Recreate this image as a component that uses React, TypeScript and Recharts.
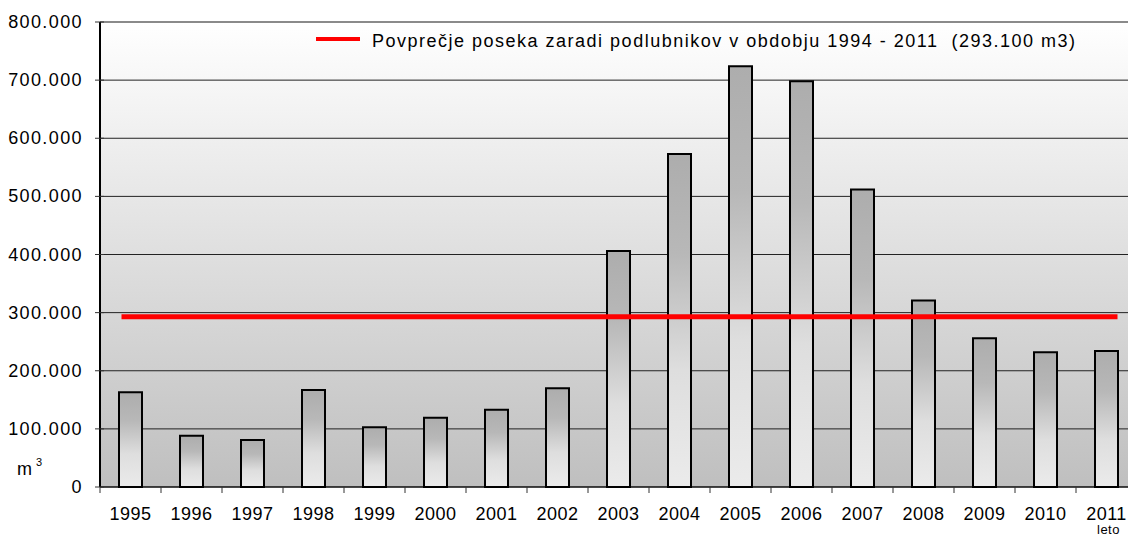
import React from "react";
import { Bar, BarChart, CartesianGrid, ReferenceLine, XAxis, YAxis } from "recharts";

const years = ["1995", "1996", "1997", "1998", "1999", "2000", "2001", "2002", "2003", "2004", "2005", "2006", "2007", "2008", "2009", "2010", "2011"];
const felling = [163000, 88000, 81000, 167000, 103000, 119000, 133000, 170000, 406000, 573000, 724000, 698000, 512000, 321000, 256000, 232000, 234000];
const average = 293100;
const yTicks = [0, 100000, 200000, 300000, 400000, 500000, 600000, 700000, 800000];
const legendLabel = "Povprečje poseka zaradi podlubnikov v obdobju 1994 - 2011  (293.100 m3)";

const data = years.map((year, i) => ({ year, value: felling[i] }));

const CHART_W = 1140;
const CHART_H = 536;
const MARGIN = { top: 22, right: 3, bottom: 0, left: 0 };
const Y_W = 100;
const BAND = (CHART_W - MARGIN.left - MARGIN.right - Y_W) / years.length;
const FONT = "'Liberation Sans', Arial, sans-serif";

const fmt = (v: number) => (v === 0 ? "0" : `${v / 1000}.000`);

function XTick(props: any) {
  const { x, y, payload } = props;
  const half = BAND / 2;
  return (
    <g>
      <line x1={x - half} x2={x - half} y1={y} y2={y + 6} stroke="#333" strokeWidth={1} />
      <text x={x} y={y + 33} textAnchor="middle" fill="#000" style={{ fontSize: "18px", letterSpacing: "0.5px", fontFamily: FONT }}>
        {payload.value}
      </text>
    </g>
  );
}

function YTick(props: any) {
  const { y, payload } = props;
  const axisX = Y_W + MARGIN.left;
  return (
    <g>
      <line x1={axisX - 5} x2={axisX + 4} y1={y} y2={y} stroke="#333" strokeWidth={1} />
      <text x={axisX - 17} y={y + 6} textAnchor="end" fill="#000" style={{ fontSize: "18px", letterSpacing: "1.4px", fontFamily: FONT }}>
        {fmt(payload.value)}
      </text>
    </g>
  );
}

function AvgLine(props: any) {
  const { x1, x2, y1, y2 } = props;
  return <line x1={x1 - 9} x2={x2 + 11} y1={y1} y2={y2} stroke="#ff0000" strokeWidth={5} />;
}

export default function App() {
  return (
    <div style={{ position: "fixed", left: 0, top: 0, width: 1128, height: 536, overflow: "hidden", background: "#fff", fontFamily: FONT }}>
      <BarChart width={CHART_W} height={CHART_H} data={data} margin={MARGIN} barSize={23}>
        <defs>
          <linearGradient id="bg" x1="0" y1="0" x2="0" y2="1">
            <stop offset="0%" stopColor="#ffffff" />
            <stop offset="100%" stopColor="#bfbfbf" />
          </linearGradient>
          <linearGradient id="barFill" x1="0" y1="0" x2="0" y2="1">
            <stop offset="0%" stopColor="#adadad" />
            <stop offset="30%" stopColor="#b8b8b8" />
            <stop offset="65%" stopColor="#dedede" />
            <stop offset="100%" stopColor="#ebebeb" />
          </linearGradient>
        </defs>
        <CartesianGrid vertical={false} stroke="#222" fill="url(#bg)" fillOpacity={1} />
        <XAxis
          dataKey="year"
          height={49}
          tickSize={0}
          tickMargin={0}
          tick={<XTick />}
          axisLine={{ stroke: "#000", strokeWidth: 1 }}
          interval={0}
        />
        <YAxis
          width={Y_W}
          domain={[0, 800000]}
          ticks={yTicks}
          tickSize={0}
          tickMargin={0}
          tickLine={false}
          axisLine={{ stroke: "#000", strokeWidth: 2 }}
          tick={<YTick />}
          interval={0}
        />
        <ReferenceLine y={800000} stroke="#8a8a8a" strokeWidth={2} />
        <Bar dataKey="value" fill="url(#barFill)" stroke="#000" strokeWidth={2} isAnimationActive={false} />
        <ReferenceLine
          segment={[
            { x: years[0], y: average },
            { x: years[years.length - 1], y: average },
          ]}
          shape={<AvgLine />}
        />
      </BarChart>
      <div style={{ position: "absolute", left: 316, top: 37, width: 44, height: 4, background: "#ff0000" }} />
      <div style={{ position: "absolute", left: 372, top: 31, fontSize: 18, letterSpacing: 1.5, color: "#000", whiteSpace: "pre", lineHeight: "20px" }}>
        {legendLabel}
      </div>
      <div style={{ position: "absolute", left: 17, top: 459, fontSize: 18, color: "#000", lineHeight: "20px" }}>
        m<span style={{ fontSize: 11, position: "relative", top: -9, left: 4 }}>3</span>
      </div>
      <div style={{ position: "absolute", left: 1097, top: 524, fontSize: 13, color: "#000", lineHeight: "12px", letterSpacing: 0.5 }}>
        leto
      </div>
    </div>
  );
}
